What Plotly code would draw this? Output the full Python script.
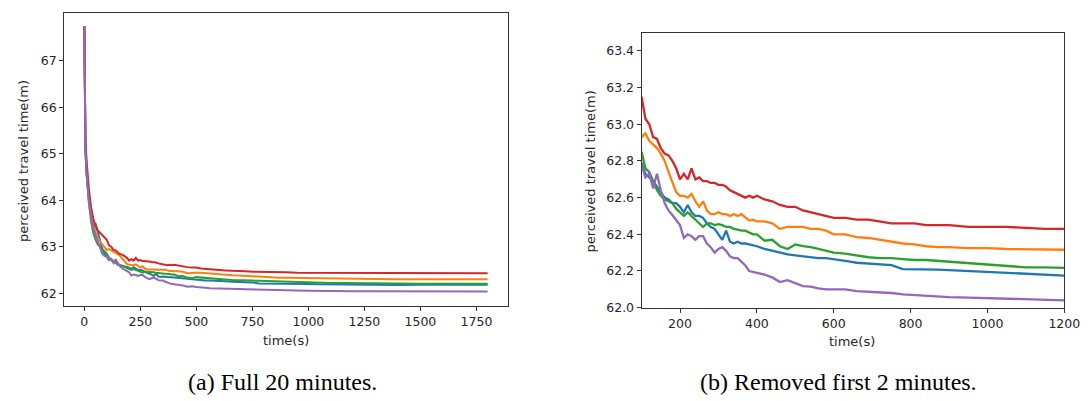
import plotly.graph_objects as go

W, H = 1092, 401

time_s = [0, 2, 5, 10, 15, 20, 30, 40, 50, 60, 70, 80, 90,
          100, 110, 120, 130, 140, 150, 160, 170, 180, 190,
          200, 210, 220, 230, 240, 250, 260, 270, 280, 290,
          300, 310, 320, 330, 340, 350, 360, 370, 380, 390,
          400, 420, 440, 460, 480, 500, 520, 540, 560, 580,
          600, 630, 660, 690, 720, 750, 780, 810, 840, 870,
          900, 950, 1000, 1050, 1100, 1150, 1200,
          1300, 1400, 1500, 1600, 1700, 1800]

series_blue = [67.75, 66.2, 65.1, 64.6, 64.3, 64.05, 63.7, 63.45, 63.5, 63.3, 63.1, 62.95, 62.85,
               62.79, 62.73, 62.71, 62.69, 62.66, 62.63, 62.60, 62.59, 62.57, 62.57,
               62.55, 62.52, 62.56, 62.52, 62.50, 62.50, 62.49, 62.46, 62.44, 62.43,
               62.40, 62.37, 62.42, 62.36, 62.35, 62.36, 62.35, 62.35, 62.345, 62.34,
               62.335, 62.32, 62.31, 62.30, 62.29, 62.285, 62.28, 62.275, 62.27, 62.27,
               62.265, 62.255, 62.245, 62.24, 62.237, 62.232, 62.21, 62.21, 62.21, 62.207,
               62.205, 62.20, 62.198, 62.19, 62.188, 62.183, 62.175,
               62.175, 62.178, 62.18, 62.18, 62.18, 62.18]

series_orange = [67.75, 66.3, 65.2, 64.75, 64.4, 64.15, 63.75, 63.5, 63.3, 63.2, 63.1, 63.05, 62.98,
                 62.93, 62.95, 62.91, 62.89, 62.87, 62.84, 62.80, 62.74, 62.69, 62.63,
                 62.61, 62.61, 62.60, 62.62, 62.58, 62.55, 62.58, 62.53, 62.51, 62.51,
                 62.52, 62.51, 62.51, 62.50, 62.51, 62.50, 62.51, 62.49, 62.475, 62.48,
                 62.47, 62.47, 62.46, 62.43, 62.44, 62.44, 62.44, 62.43, 62.43, 62.42,
                 62.40, 62.40, 62.385, 62.38, 62.37, 62.36, 62.35, 62.345, 62.335, 62.33,
                 62.33, 62.325, 62.325, 62.32, 62.318, 62.315, 62.31,
                 62.305, 62.30, 62.30, 62.30, 62.30, 62.30]

series_green = [67.75, 66.2, 65.0, 64.55, 64.2, 63.95, 63.55, 63.3, 63.15, 63.05, 63.0, 62.95, 62.9,
                62.85, 62.76, 62.74, 62.69, 62.64, 62.61, 62.59, 62.58, 62.57, 62.54,
                62.52, 62.50, 62.52, 62.50, 62.48, 62.46, 62.44, 62.46, 62.46, 62.45,
                62.455, 62.45, 62.44, 62.44, 62.43, 62.425, 62.42, 62.42, 62.41, 62.40,
                62.40, 62.365, 62.37, 62.335, 62.32, 62.345, 62.335, 62.33, 62.32, 62.31,
                62.30, 62.295, 62.285, 62.275, 62.27, 62.27, 62.265, 62.26, 62.26, 62.255,
                62.25, 62.245, 62.235, 62.225, 62.22, 62.22, 62.215,
                62.21, 62.21, 62.205, 62.205, 62.20, 62.20]

series_red = [67.75, 66.4, 65.3, 64.85, 64.5, 64.25, 63.85, 63.6, 63.45, 63.35, 63.3, 63.25, 63.2,
              63.15, 63.03, 63.00, 62.93, 62.92, 62.87, 62.84, 62.83, 62.80, 62.76,
              62.70, 62.73, 62.70, 62.76, 62.70, 62.71, 62.69, 62.69, 62.68, 62.68,
              62.67, 62.67, 62.66, 62.64, 62.63, 62.62, 62.61, 62.60, 62.61, 62.60,
              62.61, 62.59, 62.58, 62.56, 62.55, 62.55, 62.53, 62.52, 62.51, 62.50,
              62.49, 62.49, 62.48, 62.48, 62.47, 62.46, 62.46, 62.46, 62.45, 62.45,
              62.45, 62.44, 62.44, 62.44, 62.435, 62.43, 62.43,
              62.43, 62.43, 62.425, 62.43, 62.43, 62.43]

series_purple = [67.75, 66.3, 65.1, 64.6, 64.25, 64.0, 63.65, 63.4, 63.25, 63.1, 62.95, 62.85, 62.8,
                 62.78, 62.71, 62.73, 62.65, 62.73, 62.64, 62.57, 62.53, 62.505, 62.48,
                 62.45, 62.38, 62.40, 62.39, 62.37, 62.39, 62.39, 62.35, 62.33, 62.30,
                 62.32, 62.33, 62.31, 62.28, 62.27, 62.27, 62.25, 62.23, 62.20, 62.195,
                 62.19, 62.18, 62.165, 62.14, 62.15, 62.135, 62.118, 62.115, 62.105, 62.10,
                 62.10, 62.10, 62.09, 62.088, 62.085, 62.08, 62.072, 62.068, 62.065, 62.06,
                 62.058, 62.055, 62.052, 62.047, 62.046, 62.045, 62.04,
                 62.04, 62.038, 62.036, 62.035, 62.035, 62.035]

series = [
    ("blue", series_blue, "#1f77b4"),
    ("orange", series_orange, "#ff7f0e"),
    ("green", series_green, "#2ca02c"),
    ("red", series_red, "#d62728"),
    ("purple", series_purple, "#9467bd"),
]

left_yticks = [62, 63, 64, 65, 66, 67]
left_xticks = [0, 250, 500, 750, 1000, 1250, 1500, 1750]
right_yticks = [62.0, 62.2, 62.4, 62.6, 62.8, 63.0, 63.2, 63.4]
right_xticks = [200, 400, 600, 800, 1000, 1200]

fig = go.Figure()

for name, vals, col in series:
    fig.add_trace(go.Scatter(x=time_s, y=vals, mode="lines", name=name,
                             line=dict(color=col, width=2),
                             xaxis="x", yaxis="y", showlegend=False))

for name, vals, col in series:
    xs = [t for t in time_s if t >= 100]
    ys = [v for t, v in zip(time_s, vals) if t >= 100]
    fig.add_trace(go.Scatter(x=xs, y=ys, mode="lines", name=name,
                             line=dict(color=col, width=2.3),
                             xaxis="x2", yaxis="y2", showlegend=False))

def px_x(p):
    return p / W

def px_y(p):
    return 1 - p / H

axis_common = dict(showline=True, mirror=True, linecolor="#333333", linewidth=1,
                   ticks="outside", ticklen=4, tickcolor="#333333", showgrid=False,
                   zeroline=False, tickfont=dict(family="DejaVu Sans", size=12.5, color="#262626"))

fig.update_layout(
    width=W, height=H,
    margin=dict(l=0, r=0, t=0, b=0),
    paper_bgcolor="white", plot_bgcolor="white",
    xaxis=dict(domain=[px_x(57), px_x(507)], range=[-90, 1889], tickvals=left_xticks,
               anchor="y", **axis_common),
    yaxis=dict(domain=[px_y(303), px_y(5)], range=[61.73, 68.03], tickvals=left_yticks,
               anchor="x", **axis_common),
    xaxis2=dict(domain=[px_x(643), px_x(1072)], range=[100, 1200], tickvals=right_xticks,
                anchor="y2", **axis_common),
    yaxis2=dict(domain=[px_y(305), px_y(25)], range=[62.0, 63.5], tickvals=right_yticks,
                tickformat=".1f", anchor="x2", **axis_common),
)

title_font = dict(family="DejaVu Sans", size=13, color="#262626")
cap_font = dict(family="Liberation Serif", size=24, color="#000000")

fig.add_annotation(x=px_x(15), y=px_y(156), xref="paper", yref="paper", text="perceived travel time(m)",
                   textangle=-90, showarrow=False, font=title_font, xanchor="center", yanchor="middle")
fig.add_annotation(x=px_x(591), y=px_y(166), xref="paper", yref="paper", text="perceived travel time(m)",
                   textangle=-90, showarrow=False, font=title_font, xanchor="center", yanchor="middle")
fig.add_annotation(x=px_x(282), y=px_y(338), xref="paper", yref="paper", text="time(s)",
                   showarrow=False, font=title_font, xanchor="center", yanchor="middle")
fig.add_annotation(x=px_x(857), y=px_y(339), xref="paper", yref="paper", text="time(s)",
                   showarrow=False, font=title_font, xanchor="center", yanchor="middle")
fig.add_annotation(x=px_x(279), y=px_y(381), xref="paper", yref="paper", text="(a) Full 20 minutes.",
                   showarrow=False, font=cap_font, xanchor="center", yanchor="middle")
fig.add_annotation(x=px_x(843), y=px_y(381), xref="paper", yref="paper", text="(b) Removed first 2 minutes.",
                   showarrow=False, font=cap_font, xanchor="center", yanchor="middle")

fig.write_html("out.html")
